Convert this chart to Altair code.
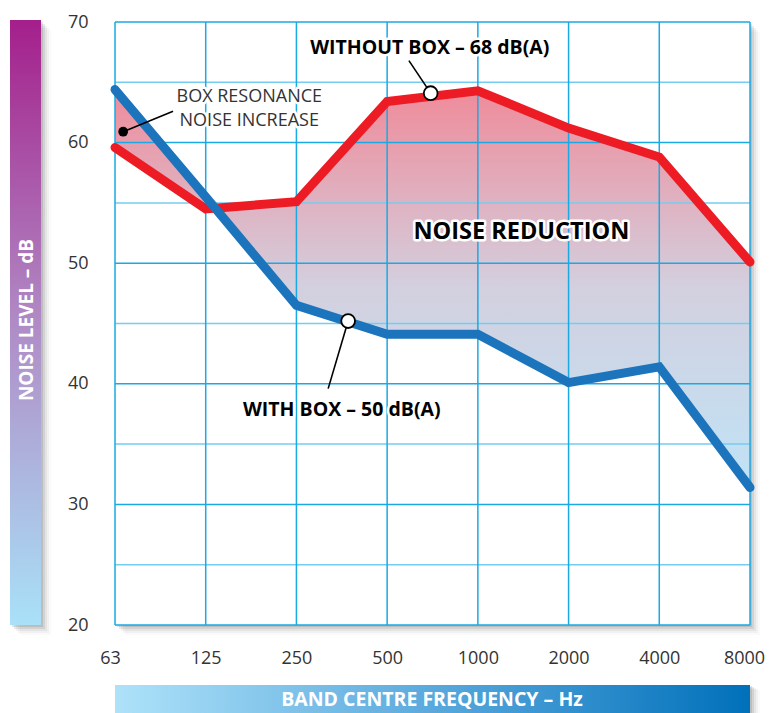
import altair as alt
import pandas as pd

# ---- data ----
freqs = ["63", "125", "250", "500", "1000", "2000", "4000", "8000"]
without_box = [59.6, 54.5, 55.1, 63.4, 64.3, 61.2, 58.8, 50.1]
with_box = [64.4, 55.5, 46.5, 44.1, 44.1, 40.1, 41.4, 31.4]
grid_y = [20, 25, 30, 35, 40, 45, 50, 55, 60, 65, 70]
grid_x = [0, 1, 2, 3, 4, 5, 6, 7]

W, H = 635, 603
FONT = "Open Sans"

df = pd.DataFrame({"i": grid_x, "freq": freqs, "without": without_box, "with": with_box})

xs = alt.Scale(domain=[0, 7], nice=False, zero=False)
ys = alt.Scale(domain=[20, 70], nice=False, zero=False)
label_expr = "[" + ",".join(f"'{f}'" for f in freqs) + "][datum.value]"

one = alt.Data(values=[{"a": 0}])


def prect(x, x2, y, y2, **kw):
    return alt.Chart(one).mark_rect(**kw).encode(
        x=alt.value(x), x2=alt.value(x2), y=alt.value(y), y2=alt.value(y2)
    )


layers = []

# shadows
for o, op in [(2, 0.16), (4, 0.12), (6, 0.08), (8, 0.05), (10, 0.03)]:
    layers.append(prect(o, W + o, o, H + o, color="#555555", opacity=op))
    layers.append(prect(-105 + o, -74 + o, -2 + o, 603 + o, color="#555555", opacity=op))
    layers.append(prect(o, W + o, 663 + o * 0.5, 691 + o * 0.5, color="#555555", opacity=op))

# white plot background
layers.append(prect(0, W, 0, H, color="white"))

# left title bar
layers.append(prect(-105, -74, -2, 603, color=alt.Gradient(
    gradient="linear", x1=0, y1=0, x2=0, y2=1,
    stops=[alt.GradientStop(offset=0, color="#a41f8b"),
           alt.GradientStop(offset=0.5, color="#b08bc5"),
           alt.GradientStop(offset=1, color="#a9e1f8")])))
# bottom title bar
layers.append(prect(0, W, 663, 691, color=alt.Gradient(
    gradient="linear", x1=0, y1=0, x2=1, y2=0,
    stops=[alt.GradientStop(offset=0, color="#aee2f9"),
           alt.GradientStop(offset=0.5, color="#5aa9dd"),
           alt.GradientStop(offset=1, color="#0070ba")])))

layers.append(alt.Chart(one).mark_text(
    text="NOISE LEVEL – dB", angle=270, font=FONT, fontWeight="bold",
    fontSize=19, color="white", align="center", baseline="middle"
).encode(x=alt.value(-88), y=alt.value(298)))
layers.append(alt.Chart(one).mark_text(
    text="BAND CENTRE FREQUENCY – Hz", font=FONT, fontWeight="bold",
    fontSize=19.5, color="white", align="center", baseline="middle"
).encode(x=alt.value(317), y=alt.value(678)))

# fill between the curves (also carries the axes)
area = alt.Chart(df).mark_area(color=alt.Gradient(
    gradient="linear", x1=0, y1=0, x2=0, y2=1,
    stops=[alt.GradientStop(offset=0, color="#ef8b9a"),
           alt.GradientStop(offset=0.5, color="#d3d0df"),
           alt.GradientStop(offset=1, color="#bfe3f6")])).encode(
    x=alt.X("i:Q", scale=xs, axis=alt.Axis(
        values=grid_x, labelExpr=label_expr, grid=False, ticks=False, domain=False,
        labelPadding=24, labelFontSize=18, labelColor="#333333", labelFont=FONT,
        labelFlush=False, labelAlign="center",
        labelOffset={"condition": [{"test": "datum.value === 7", "value": -6},
                                   {"test": "datum.value === 0", "value": -5}],
                     "value": 0},
        labelOverlap=False, title=None)),
    y=alt.Y("without:Q", scale=ys, axis=alt.Axis(
        values=grid_y, labelExpr="datum.value % 10 === 0 ? datum.label : ''",
        grid=False, ticks=False, domain=False, labelPadding=27, labelFlush=False,
        labelFontSize=18, labelColor="#333333", labelFont=FONT, title=None)),
    y2="with:Q",
)
layers.append(area)

# grid
gy = pd.DataFrame({"v": grid_y, "major": [v % 10 == 0 for v in grid_y]})
gx = pd.DataFrame({"v": grid_x})
layers.append(alt.Chart(gy).mark_rule(strokeWidth=1.5).encode(
    y=alt.Y("v:Q", scale=ys),
    color=alt.condition("datum.major", alt.value("#1ba9e3"), alt.value("#74cdf1"))))
layers.append(alt.Chart(gx).mark_rule(strokeWidth=1.5, color="#1ba9e3").encode(
    x=alt.X("v:Q", scale=xs)))

# lines
layers.append(alt.Chart(df).mark_line(color="#ed1c24", strokeWidth=9, strokeCap="round").encode(
    x=alt.X("i:Q", scale=xs), y=alt.Y("without:Q", scale=ys)))
layers.append(alt.Chart(df).mark_line(color="#1c74bc", strokeWidth=9, strokeCap="round").encode(
    x=alt.X("i:Q", scale=xs), y=alt.Y("with:Q", scale=ys)))

# leader lines
leaders = pd.DataFrame({
    "x": [0.09, 3.24, 2.35], "y": [60.9, 66.8, 39.6],
    "x2": [0.64, 3.48, 2.57], "y2": [62.6, 64.1, 45.2]})
layers.append(alt.Chart(leaders).mark_rule(color="black", strokeWidth=1.6).encode(
    x=alt.X("x:Q", scale=xs), y=alt.Y("y:Q", scale=ys), x2="x2:Q", y2="y2:Q"))

# markers
dot = pd.DataFrame({"x": [0.09], "y": [60.9]})
layers.append(alt.Chart(dot).mark_point(filled=True, color="black", size=95, opacity=1).encode(
    x=alt.X("x:Q", scale=xs), y=alt.Y("y:Q", scale=ys)))
rings = pd.DataFrame({"x": [3.48, 2.57], "y": [64.1, 45.2]})
layers.append(alt.Chart(rings).mark_point(
    filled=True, fill="white", stroke="black", strokeWidth=1.8, size=190, opacity=1
).encode(x=alt.X("x:Q", scale=xs), y=alt.Y("y:Q", scale=ys)))


# labels
def label(rows, size, weight, color):
    d = pd.DataFrame(rows)
    halo = alt.Chart(d).mark_text(font=FONT, fontSize=size, fontWeight=weight,
                                  color="white", stroke="white", strokeWidth=5,
                                  strokeJoin="round", align="center", baseline="middle").encode(
        x=alt.X("x:Q", scale=xs), y=alt.Y("y:Q", scale=ys), text="t:N")
    txt = alt.Chart(d).mark_text(font=FONT, fontSize=size, fontWeight=weight,
                                 color=color, align="center", baseline="middle").encode(
        x=alt.X("x:Q", scale=xs), y=alt.Y("y:Q", scale=ys), text="t:N")
    return [halo, txt]


layers += label({"x": [1.48, 1.48], "y": [63.8, 61.8],
                 "t": ["BOX RESONANCE", "NOISE INCREASE"]}, 18, "normal", "#333333")
layers += label({"x": [3.47, 2.50], "y": [67.85, 37.85],
                 "t": ["WITHOUT BOX – 68 dB(A)", "WITH BOX – 50 dB(A)"]}, 19.5, "bold", "black")
layers += label({"x": [4.48], "y": [52.6], "t": ["NOISE REDUCTION"]}, 23.5, "bold", "black")

chart = alt.layer(*layers).properties(
    width=W, height=H,
    autosize=alt.AutoSizeParams(type="none"),
    padding={"left": 107, "top": 14, "right": 16, "bottom": 88},
).configure_view(stroke=None)

chart.save("out.html", embed_options={"renderer": "svg", "actions": False})
